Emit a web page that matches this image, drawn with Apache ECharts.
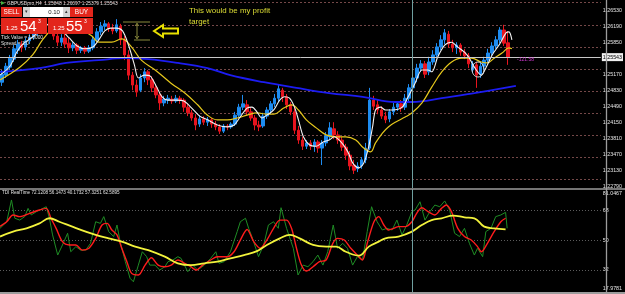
<!DOCTYPE html>
<html><head><meta charset="utf-8">
<script src="https://cdn.jsdelivr.net/npm/echarts@6/dist/echarts.min.js"></script>
<style>html,body{margin:0;padding:0;background:#000;}#c{width:625px;height:294px;}</style>
</head><body><div id="c"></div>
<script>
// ---- DATA ----
// candles: [open, close, low, high]
const ohlc = [
[1.2501,1.2518,1.2493,1.2527],[1.2516,1.2535,1.2510,1.2542],[1.2533,1.2552,1.2527,1.2559],[1.2550,1.2572,1.2544,1.2580],
[1.2569,1.2582,1.2561,1.2591],[1.2582,1.2574,1.2565,1.2589],[1.2576,1.2589,1.2569,1.2595],[1.2589,1.2597,1.2582,1.2603],
[1.2597,1.2606,1.2591,1.2612],[1.2606,1.2612,1.2599,1.2620],[1.2612,1.2618,1.2603,1.2625],[1.2618,1.2625,1.2612,1.2633],
[1.2625,1.2629,1.2616,1.2637],[1.2625,1.2599,1.2591,1.2633],[1.2599,1.2586,1.2578,1.2612],[1.2586,1.2595,1.2578,1.2603],
[1.2595,1.2582,1.2574,1.2606],[1.2584,1.2574,1.2563,1.2595],[1.2574,1.2580,1.2567,1.2586],[1.2580,1.2569,1.2561,1.2584],
[1.2569,1.2574,1.2563,1.2578],[1.2574,1.2567,1.2561,1.2578],[1.2567,1.2574,1.2563,1.2580],[1.2574,1.2591,1.2569,1.2599],
[1.2591,1.2608,1.2586,1.2616],[1.2608,1.2620,1.2601,1.2629],[1.2620,1.2625,1.2612,1.2633],[1.2625,1.2616,1.2608,1.2629],
[1.2616,1.2610,1.2603,1.2625],[1.2610,1.2623,1.2606,1.2635],[1.2620,1.2591,1.2580,1.2625],[1.2591,1.2559,1.2548,1.2599],
[1.2559,1.2516,1.2506,1.2569],[1.2516,1.2495,1.2484,1.2523],[1.2495,1.2480,1.2470,1.2506],[1.2484,1.2510,1.2480,1.2518],
[1.2510,1.2523,1.2501,1.2531],[1.2523,1.2506,1.2495,1.2527],[1.2506,1.2489,1.2480,1.2514],[1.2489,1.2474,1.2467,1.2497],
[1.2474,1.2457,1.2442,1.2480],[1.2457,1.2465,1.2450,1.2472],[1.2463,1.2467,1.2455,1.2474],[1.2465,1.2461,1.2455,1.2472],
[1.2461,1.2467,1.2457,1.2474],[1.2467,1.2463,1.2455,1.2472],[1.2463,1.2448,1.2438,1.2467],[1.2448,1.2436,1.2429,1.2455],
[1.2436,1.2425,1.2419,1.2442],[1.2425,1.2410,1.2399,1.2433],[1.2412,1.2423,1.2406,1.2431],[1.2423,1.2416,1.2410,1.2429],
[1.2416,1.2421,1.2408,1.2427],[1.2421,1.2412,1.2404,1.2425],[1.2412,1.2406,1.2399,1.2419],[1.2406,1.2397,1.2391,1.2412],
[1.2397,1.2408,1.2393,1.2412],[1.2408,1.2406,1.2399,1.2412],[1.2406,1.2412,1.2402,1.2416],[1.2412,1.2431,1.2408,1.2438],
[1.2431,1.2448,1.2427,1.2455],[1.2448,1.2455,1.2442,1.2474],[1.2453,1.2438,1.2431,1.2463],[1.2438,1.2425,1.2419,1.2446],
[1.2425,1.2410,1.2399,1.2431],[1.2410,1.2406,1.2397,1.2419],[1.2408,1.2429,1.2404,1.2436],[1.2429,1.2442,1.2423,1.2448],
[1.2442,1.2455,1.2433,1.2461],[1.2455,1.2467,1.2448,1.2476],[1.2467,1.2487,1.2459,1.2495],[1.2484,1.2470,1.2459,1.2489],
[1.2470,1.2453,1.2444,1.2476],[1.2453,1.2438,1.2431,1.2459],[1.2438,1.2399,1.2391,1.2446],[1.2399,1.2378,1.2370,1.2408],
[1.2378,1.2365,1.2357,1.2385],[1.2365,1.2372,1.2359,1.2378],[1.2372,1.2365,1.2357,1.2378],[1.2365,1.2374,1.2353,1.2380],
[1.2374,1.2361,1.2351,1.2378],[1.2361,1.2372,1.2325,1.2378],[1.2372,1.2387,1.2365,1.2395],[1.2385,1.2404,1.2378,1.2416],
[1.2402,1.2389,1.2380,1.2416],[1.2389,1.2378,1.2370,1.2397],[1.2378,1.2363,1.2355,1.2385],[1.2363,1.2346,1.2336,1.2370],
[1.2346,1.2323,1.2314,1.2355],[1.2325,1.2314,1.2306,1.2336],[1.2317,1.2323,1.2310,1.2331],[1.2323,1.2336,1.2317,1.2342],
[1.2336,1.2361,1.2329,1.2372],[1.2361,1.2463,1.2357,1.2489],[1.2463,1.2450,1.2442,1.2472],[1.2453,1.2442,1.2433,1.2463],
[1.2442,1.2429,1.2423,1.2450],[1.2429,1.2421,1.2414,1.2438],[1.2423,1.2438,1.2416,1.2444],[1.2438,1.2448,1.2431,1.2457],
[1.2448,1.2455,1.2440,1.2461],[1.2455,1.2446,1.2438,1.2463],[1.2448,1.2467,1.2442,1.2476],[1.2467,1.2489,1.2459,1.2497],
[1.2489,1.2510,1.2480,1.2516],[1.2510,1.2531,1.2501,1.2540],[1.2531,1.2540,1.2523,1.2548],[1.2540,1.2518,1.2510,1.2546],
[1.2523,1.2544,1.2516,1.2555],[1.2544,1.2559,1.2538,1.2569],[1.2559,1.2576,1.2552,1.2584],[1.2576,1.2591,1.2569,1.2601],
[1.2591,1.2606,1.2582,1.2614],[1.2603,1.2582,1.2574,1.2610],[1.2582,1.2574,1.2565,1.2591],[1.2574,1.2580,1.2561,1.2586],
[1.2580,1.2565,1.2557,1.2584],[1.2565,1.2557,1.2550,1.2572],[1.2557,1.2540,1.2531,1.2563],[1.2527,1.2540,1.2521,1.2546],
[1.2538,1.2516,1.2489,1.2544],[1.2518,1.2535,1.2510,1.2544],[1.2535,1.2548,1.2527,1.2555],[1.2548,1.2563,1.2542,1.2572],
[1.2563,1.2578,1.2557,1.2586],[1.2578,1.2591,1.2572,1.2599],[1.2591,1.2612,1.2584,1.2618],[1.2612,1.2584,1.2578,1.2623],
[1.25848,1.25543,1.25379,1.26097]
];
const slotCount = 152;
const categories = Array.from({length: slotCount}, (_, i) => String(i));

// moving averages: [bar index, price]
const fastMA = [[-0.5,1.2516],[2,1.2535],[3.75,1.2565],[5.25,1.2582],[7.75,1.2597],[10,1.2612],[12,1.2625],[14.5,1.2616],[17,1.2595],[19,1.2578],[21,1.2572],[23,1.2576],[24.5,1.2591],[26,1.2610],[27.5,1.2616],[29,1.2616],[30.5,1.2610],[32,1.2580],[33.5,1.2538],[34.5,1.2510],[36,1.2516],[37.5,1.2514],[39,1.2493],[40.5,1.2470],[42,1.2463],[44,1.2463],[46,1.2461],[48,1.2446],[50,1.2429],[52,1.2421],[54.5,1.2410],[57,1.2406],[58.75,1.2410],[60.25,1.2427],[62,1.2446],[63.25,1.2448],[64.5,1.2438],[65.75,1.2425],[67,1.2431],[68.75,1.2442],[70.25,1.2463],[71.5,1.2470],[72.75,1.2467],[74,1.2448],[75,1.2421],[76.25,1.2385],[77.75,1.2368],[79.5,1.2365],[81.25,1.2374],[82.75,1.2378],[84,1.2385],[85.75,1.2374],[87.5,1.2353],[88.75,1.2329],[90.25,1.2319],[91.5,1.2329],[92.75,1.2363],[93.75,1.2406],[94.5,1.2442],[95.75,1.2448],[97,1.2442],[98.75,1.2442],[101.25,1.2448],[102.75,1.2470],[104.5,1.2499],[106.25,1.2527],[107.75,1.2527],[108.75,1.2523],[110.25,1.2555],[112,1.2580],[113.75,1.2586],[115.25,1.2576],[117,1.2565],[118.25,1.2552],[119.5,1.2533],[121.25,1.2516],[122.5,1.2533],[124,1.2559],[125.75,1.2580],[127.5,1.2606],[128.25,1.2608],[129,1.2591]];
const midMA = [[-0.5,1.2506],[4.5,1.2533],[7.75,1.2559],[10.25,1.2591],[12.5,1.2612],[15,1.2623],[18.25,1.2620],[20.75,1.2610],[22.75,1.2599],[24.5,1.2586],[27.75,1.2586],[30.25,1.2593],[32.75,1.2576],[35.25,1.2548],[38.75,1.2527],[42.75,1.2499],[46.25,1.2478],[49.5,1.2453],[52,1.2431],[54.5,1.2421],[57,1.2421],[59.5,1.2425],[62,1.2431],[64.5,1.2436],[67,1.2433],[68.75,1.2433],[71.25,1.2446],[73.25,1.2453],[75,1.2442],[77,1.2421],[79.5,1.2404],[82,1.2389],[84.5,1.2385],[87,1.2385],[89.5,1.2378],[91.5,1.2361],[93.25,1.2353],[94.5,1.2372],[96.25,1.2393],[97.75,1.2406],[99.5,1.2416],[102,1.2427],[103.75,1.2436],[106.25,1.2457],[108.75,1.2491],[111.25,1.2523],[113.75,1.2544],[116.25,1.2552],[118.75,1.2552],[121.25,1.2544],[122.75,1.2542],[124.5,1.2552],[126.5,1.2563],[128.25,1.2574],[129,1.2572]];
const slowMA = [[-0.5,1.2523],[9.5,1.2531],[16.25,1.2542],[24.5,1.2548],[31.25,1.2552],[37,1.2550],[44.5,1.2542],[52,1.2531],[57.75,1.2516],[66.25,1.2501],[74.5,1.2489],[82.75,1.2478],[91.25,1.2470],[99.5,1.2459],[103.75,1.2459],[111.25,1.2467],[119.5,1.2478],[130,1.2493]];

// TDI: [bar index, value]
const tdiRsi = [[-0.5,57.2],[1.2,61.2],[2.4,74.4],[3.25,63.3],[4.5,62.2],[5.75,64.3],[6.6,69.3],[7.4,65.3],[8.7,67.3],[11.2,70.3],[12,63.3],[12.8,53.2],[14.1,41.0],[15.3,47.1],[16.6,54.2],[17.4,43.0],[18.7,46.1],[19.9,44.0],[21.2,44.0],[22.4,48.1],[23.7,61.2],[24.9,60.2],[25.75,64.3],[27,55.2],[28.25,52.2],[29.1,59.2],[29.9,49.1],[31.2,37.0],[32.4,26.9],[33.25,24.8],[34.5,34.9],[35.5,43.0],[36.6,40.0],[37.4,34.9],[38.7,34.9],[39.9,31.9],[41.2,33.9],[42,37.0],[43.25,38.0],[44.5,40.0],[45.3,39.0],[47,30.9],[48.25,34.9],[49.5,31.9],[51.2,34.9],[52.8,39.0],[54.1,43.0],[54.9,36.0],[56.2,37.0],[57.8,43.0],[59.5,55.2],[60.3,61.2],[61.6,63.3],[62.4,57.2],[63.25,52.0],[64.9,40.0],[66.2,47.1],[67.4,59.2],[68.7,61.2],[69.9,57.2],[70.6,69.7],[72,57.2],[73.7,45.1],[74.9,28.9],[76.2,34.9],[77.4,33.9],[78.7,37.0],[79.9,41.0],[81.2,34.9],[82.4,43.0],[83.8,59.2],[84.9,45.1],[86.2,48.1],[87.4,45.1],[88.7,34.9],[89.9,40.0],[91.2,38.0],[92.4,55.2],[93.5,70.3],[94.9,61.2],[96.2,56.2],[97.4,57.2],[98.7,56.2],[99.9,62.2],[101.2,53.2],[102.4,59.2],[103.7,67.3],[104.5,68.3],[105.75,73.3],[107,62.2],[108.25,67.3],[109.5,71.3],[110.75,70.3],[112,73.8],[113.25,68.3],[114.5,54.2],[115.75,52.2],[117,57.2],[118.25,48.1],[119.5,41.0],[120.3,45.1],[121.6,40.0],[122.4,55.2],[123.7,57.2],[124.9,64.3],[126.2,65.3],[127.4,66.9],[127.8,57.2]];
const tdiSignal = [[-0.5,58.4],[1.2,61.2],[2.8,65.3],[4.5,64.3],[7,66.3],[9.5,68.3],[11.2,69.3],[12.4,63.3],[13.7,57.2],[15.3,49.1],[17,47.1],[18.7,47.1],[20.3,44.0],[22,45.1],[23.7,51.1],[25.3,59.2],[26.6,60.2],[27.8,56.2],[29.1,53.2],[30.3,45.1],[31.6,37.0],[32.8,29.9],[34.5,28.9],[36.2,34.9],[37.8,39.4],[39.5,34.9],[41.2,33.9],[42.8,34.9],[44.5,38.0],[46.2,36.0],[47.8,33.9],[49.1,31.9],[50.75,34.9],[52.8,38.0],[54.5,40.0],[57,40.0],[58.7,43.0],[60.3,50.1],[62,56.5],[63.7,49.1],[65.3,45.1],[67,50.1],[68.7,57.2],[70.3,62.2],[72,62.2],[73.25,57.2],[74.5,45.1],[75.75,34.9],[77,31.3],[78.7,33.9],[80.3,37.0],[82,38.0],[83.7,48.1],[84.9,51.1],[86.6,50.1],[88.25,45.1],[89.9,41.0],[91.2,38.0],[92.4,48.1],[94.1,61.2],[95.3,64.3],[96.6,59.2],[97.8,56.2],[99.1,57.2],[100.3,58.2],[102,58.2],[103.7,61.2],[104.9,66.3],[106.2,69.7],[107.8,67.3],[109.5,65.3],[111.2,69.3],[112.4,71.3],[113.7,67.3],[115.3,57.2],[117,52.2],[118.7,50.1],[120.3,46.1],[121.3,43.0],[122.8,48.1],[124.5,55.2],[126.2,61.2],[127.4,63.3]];
const tdiBase = [[-0.5,52.2],[2.8,55.2],[6.2,57.2],[9.5,60.2],[12,63.3],[14.5,61.2],[17.8,58.2],[21.2,55.2],[23.7,53.2],[27,51.1],[30.3,49.1],[33.7,46.1],[37,44.0],[41.2,40.0],[44.5,36.0],[47.8,34.9],[51.2,36.0],[54.5,37.0],[57.8,39.0],[61.2,41.0],[64.5,43.4],[67,47.1],[70.3,51.1],[72.8,53.2],[75.3,51.1],[78.7,47.1],[82,46.1],[84.5,46.1],[87,43.0],[90.3,40.6],[92.8,46.1],[95.3,49.1],[97,51.1],[100.3,52.2],[103.7,55.2],[106.2,59.2],[108.7,62.2],[111.2,63.3],[114.1,64.9],[117,63.9],[119.5,63.3],[122,58.2],[124.5,57.2],[127.4,56.6]];

// axis ticks / labels
const priceMin = 1.22762, priceMax = 1.26757;
const priceTicks = [1.2653, 1.2619, 1.2585, 1.2517, 1.2483, 1.2449, 1.2415, 1.2381, 1.2347, 1.2313, 1.2279];
const priceGrid = [1.2670, 1.2623, 1.2576, 1.2529, 1.2482, 1.2435, 1.2388, 1.2341, 1.2294];
const bidPrice = 1.25543;
const tdiMin = 17.9781, tdiMax = 81.0467;
const tdiTicks = [81.0467, 68, 50, 32, 17.9781];
const tdiGrid = [68, 50, 32];
const markerBar = 103.9;

// ---- CHART ----
const chart = echarts.init(document.getElementById('c'), null, {renderer: 'canvas'});
const F = '"Liberation Sans", Arial, sans-serif';
const G = (el) => Object.assign({z: 100}, el);
const txt = (x, y, text, size, fill, extra) => G({type: 'text', x, y, style: Object.assign({text, fill, font: size + 'px ' + F, verticalAlign: 'middle', align: 'left'}, extra || {})});
const redBtn = '#e3261c';

chart.setOption({
  animation: false,
  backgroundColor: '#000',
  grid: [
    {left: 0, top: 0, width: 606, height: 188},
    {left: 0, top: 189, width: 606, height: 104}
  ],
  xAxis: [
    {type: 'category', gridIndex: 0, data: categories, show: false, boundaryGap: true},
    {type: 'value', gridIndex: 0, min: -0.5, max: slotCount - 0.5, show: false},
    {type: 'value', gridIndex: 1, min: -0.5, max: slotCount - 0.5, show: false}
  ],
  yAxis: [
    {type: 'value', gridIndex: 0, position: 'right', min: priceMin, max: priceMax,
     axisLine: {show: false}, axisTick: {show: false}, splitLine: {show: false},
     axisLabel: {customValues: priceTicks, color: '#e6e6e6', fontSize: 5.3, fontFamily: F, margin: 2,
                 formatter: v => v.toFixed(5)}},
    {type: 'value', gridIndex: 0, position: 'left', min: priceMin, max: priceMax,
     axisLine: {show: false}, axisLabel: {show: false},
     axisTick: {show: false, customValues: priceGrid},
     splitLine: {show: true, lineStyle: {color: '#744848', type: [2, 2], width: 1}}},
    {type: 'value', gridIndex: 1, position: 'right', min: tdiMin, max: tdiMax,
     axisLine: {show: false}, axisTick: {show: false, customValues: tdiGrid},
     splitLine: {show: true, lineStyle: {color: '#5c5c5c', type: [1, 2], width: 1}},
     axisLabel: {customValues: tdiTicks, color: '#e6e6e6', fontSize: 5.3, fontFamily: F, margin: 2,
                 formatter: v => (v === tdiMax ? '{top|' + v.toFixed(4) + '}'
                                 : v === tdiMin ? '{bot|' + v.toFixed(4) + '}' : String(v)),
                 rich: {top: {padding: [9, 0, 0, 0], fontSize: 5.3, color: '#e6e6e6', fontFamily: F},
                        bot: {padding: [0, 0, 8, 0], fontSize: 5.3, color: '#e6e6e6', fontFamily: F}}}}
  ],
  series: [
    {type: 'candlestick', xAxisIndex: 0, yAxisIndex: 0, data: ohlc, barWidth: 3,
     itemStyle: {color: '#1e8cf0', color0: '#e8141e', borderColor: '#1e8cf0', borderColor0: '#e8141e', borderWidth: 1},
     markLine: {symbol: 'none', silent: true, animation: false, precision: 5,
       lineStyle: {color: '#c8c8c8', type: 'solid', width: 1},
       label: {show: true, position: 'end', distance: 1, formatter: () => bidPrice.toFixed(5),
               backgroundColor: '#f0f0f0', color: '#000', fontSize: 5.3, fontFamily: F, padding: [2, 1, 1, 1]},
       data: [{yAxis: bidPrice}]}},
    {type: 'line', xAxisIndex: 1, yAxisIndex: 0, data: slowMA, smooth: 0.4, showSymbol: false,
     lineStyle: {color: '#1c1cf2', width: 1.8}},
    {type: 'line', xAxisIndex: 1, yAxisIndex: 0, data: midMA, smooth: 0.4, showSymbol: false,
     lineStyle: {color: '#e6c81c', width: 1.2}},
    {type: 'line', xAxisIndex: 1, yAxisIndex: 0, data: fastMA, smooth: 0.3, showSymbol: false,
     lineStyle: {color: '#f2f2f2', width: 1.1},
     markLine: {symbol: 'none', silent: true, label: {show: false}, precision: 3,
       lineStyle: {color: '#6f9f9f', type: 'solid', width: 1}, data: [{xAxis: markerBar}]}},
    {type: 'line', xAxisIndex: 2, yAxisIndex: 2, data: tdiRsi, smooth: false, showSymbol: false,
     lineStyle: {color: '#1f8c25', width: 1},
     markLine: {symbol: 'none', silent: true, label: {show: false}, precision: 3,
       lineStyle: {color: '#6f9f9f', type: 'solid', width: 1}, data: [{xAxis: markerBar}]}},
    {type: 'line', xAxisIndex: 2, yAxisIndex: 2, data: tdiSignal, smooth: 0.3, showSymbol: false,
     lineStyle: {color: '#ff1c1c', width: 1.4}},
    {type: 'line', xAxisIndex: 2, yAxisIndex: 2, data: tdiBase, smooth: 0.4, showSymbol: false,
     lineStyle: {color: '#f2f23c', width: 1.8}}
  ],
  graphic: [
    // frame
    G({type: 'line', shape: {x1: 0, y1: 189, x2: 625, y2: 189}, style: {stroke: '#9c9c9c', lineWidth: 1.6}}),
    G({type: 'line', shape: {x1: 0, y1: 293, x2: 625, y2: 293}, style: {stroke: '#9c9c9c', lineWidth: 2}}),
    G({type: 'line', shape: {x1: 606.5, y1: 0, x2: 606.5, y2: 294}, style: {stroke: '#9c9c9c', lineWidth: 1.3}}),
    // header
    G({type: 'polygon', shape: {points: [[1, 1], [5, 3], [1, 5]]}, style: {fill: '#3fb03f'}}),
    txt(7, 3.2, 'GBPUSDpro,H4  1.25848 1.26097 1.25379 1.25543', 4.8, '#d8d8d8'),
    // one click trading panel
    G({type: 'rect', shape: {x: 1, y: 7, width: 21, height: 10}, style: {fill: redBtn}}),
    txt(11.5, 12, 'SELL', 6.5, '#fff', {align: 'center'}),
    G({type: 'rect', shape: {x: 23, y: 7, width: 7, height: 10}, style: {fill: '#d4d4d4'}}),
    txt(26.5, 12, '▾', 5, '#333', {align: 'center'}),
    G({type: 'rect', shape: {x: 30, y: 7, width: 33, height: 10}, style: {fill: '#ffffff'}}),
    txt(54, 12, '0.10', 6, '#222', {align: 'center'}),
    G({type: 'rect', shape: {x: 63, y: 7, width: 7, height: 10}, style: {fill: '#d4d4d4'}}),
    txt(66.5, 12, '▴', 5, '#333', {align: 'center'}),
    G({type: 'rect', shape: {x: 70, y: 7, width: 23, height: 10}, style: {fill: redBtn}}),
    txt(81.5, 12, 'BUY', 6.5, '#fff', {align: 'center'}),
    G({type: 'rect', shape: {x: 1, y: 18, width: 46, height: 16}, style: {fill: redBtn}}),
    G({type: 'rect', shape: {x: 48, y: 18, width: 45, height: 16}, style: {fill: redBtn}}),
    txt(6, 28.5, '1.25', 6, '#fff'),
    txt(20, 26.5, '54', 15, '#fff'),
    txt(38, 22, '3', 5, '#fff'),
    txt(53, 28.5, '1.25', 6, '#fff'),
    txt(66, 26.5, '55', 15, '#fff'),
    txt(84, 22, '3', 5, '#fff'),
    txt(1, 37.5, 'Tick Value = 1.0000', 4.8, '#e0e0e0'),
    txt(1, 43.5, 'Spread = 1.0', 4.8, '#e0e0e0'),
    // annotation
    txt(189, 11, 'This would be my profit', 7.9, '#dcdc34'),
    txt(189, 22, 'target', 7.9, '#dcdc34'),
    G({type: 'polygon', shape: {points: [[154, 31], [163, 25], [163, 28.5], [178, 28.5], [178, 33.5], [163, 33.5], [163, 37]]},
       style: {fill: '#000', stroke: '#e8e000', lineWidth: 2}}),
    G({type: 'line', shape: {x1: 123, y1: 22, x2: 150, y2: 22}, style: {stroke: '#8a8a3c', lineWidth: 1}}),
    G({type: 'line', shape: {x1: 134, y1: 40, x2: 150, y2: 40}, style: {stroke: '#8a8a3c', lineWidth: 1}}),
    G({type: 'line', shape: {x1: 137, y1: 23, x2: 137, y2: 39}, style: {stroke: '#8a8a3c', lineWidth: 1}}),
    G({type: 'polyline', shape: {points: [[135, 26], [137, 23.5], [139, 26]]}, style: {stroke: '#8a8a3c', lineWidth: 1, fill: 'none'}}),
    G({type: 'polyline', shape: {points: [[135, 36], [137, 38.5], [139, 36]]}, style: {stroke: '#8a8a3c', lineWidth: 1, fill: 'none'}}),
    G({type: 'ellipse', shape: {cx: 478, cy: 69.5, rx: 6, ry: 7.5}, style: {fill: 'none', stroke: '#dddddd', lineWidth: 1}}),
    txt(517, 59.5, '-121.58', 5, '#c834c8'),
    // TDI caption
    txt(2, 192.5, 'TDI RealTime 72.1208 56.1473 40.1732 57.3251 62.5895', 4.6, '#e0e0e0')
  ]
});
</script></body></html>
